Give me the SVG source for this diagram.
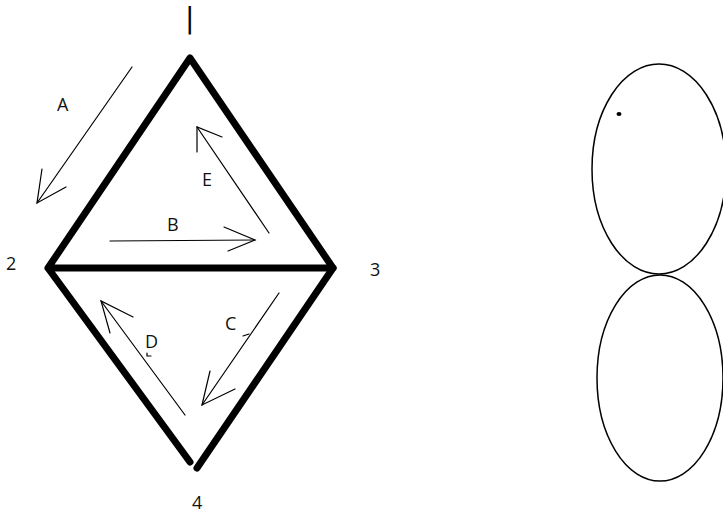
<svg xmlns="http://www.w3.org/2000/svg" width="723" height="516" viewBox="0 0 723 516">
<style>
.edge{stroke:#000;stroke-width:7;fill:none;stroke-linecap:round;stroke-linejoin:round}
.arr{stroke:#000;stroke-width:1.2;fill:none;stroke-linecap:round}
.lbl{font-family:"Open Sans","DejaVu Sans",sans-serif;font-size:18px;fill:#111}
.ell{stroke:#000;stroke-width:1.5;fill:none}
</style>
<rect width="723" height="516" fill="#fff"/>
<g id="edges">
<polyline class="edge" points="48,268 190,58 333,268 48,268 190,462"/>
<polyline class="edge" points="333,268 197,468"/>
</g>
<g id="connectors">
<g id="arrow-A"><line class="arr" x1="132" y1="67" x2="37" y2="203"/><polyline class="arr" points="42,169 37,203 66,187"/></g>
<g id="arrow-B"><line class="arr" x1="110" y1="241" x2="255" y2="240"/><polyline class="arr" points="224,227 255,240 228,251"/></g>
<g id="arrow-E"><line class="arr" x1="269" y1="233" x2="197" y2="127"/><polyline class="arr" points="197,152 197,127 222,137"/></g>
<g id="arrow-C"><line class="arr" x1="279" y1="293" x2="202" y2="405"/><polyline class="arr" points="210,371 202,405 235,389"/></g>
<g id="arrow-D"><line class="arr" x1="185" y1="415" x2="101" y2="301"/><polyline class="arr" points="110,333 101,301 133,317"/></g>
<path class="arr" d="M147,353 V356 H151 M243,336 L249,334"/>
</g>
<g id="node-1"><text x="185" y="28" style="font-family:'DejaVu Sans',sans-serif;font-size:28px;fill:#000">|</text></g>
<g id="node-2"><text class="lbl" x="6" y="270">2</text></g>
<g id="node-3"><text class="lbl" x="370" y="276">3</text></g>
<g id="node-4"><text class="lbl" x="192" y="509">4</text></g>
<g id="labels">
<text class="lbl" x="57" y="111">A</text>
<text class="lbl" x="167" y="231">B</text>
<text class="lbl" x="225" y="330">C</text>
<text class="lbl" x="145" y="348">D</text>
<text class="lbl" x="202" y="186">E</text>
</g>
<g id="ellipses">
<ellipse class="ell" cx="659" cy="169" rx="67" ry="105"/>
<ellipse class="ell" cx="660" cy="378" rx="63" ry="103"/>
<ellipse cx="619" cy="114" rx="2.5" ry="2" fill="#000"/>
</g>
</svg>
